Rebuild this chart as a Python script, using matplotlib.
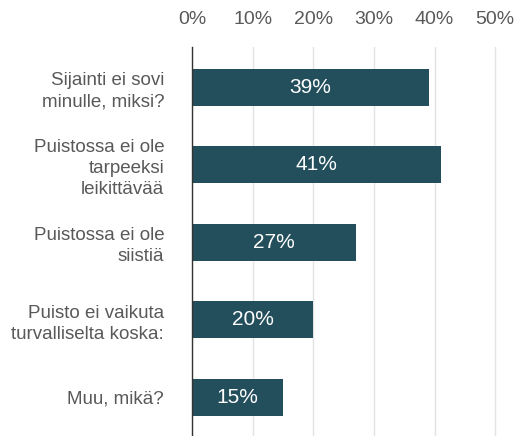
import matplotlib.pyplot as plt

plt.rcParams['font.family'] = ['Liberation Sans', 'DejaVu Sans']

labels = ['Sijainti ei sovi\nminulle, miksi?',
          'Puistossa ei ole\ntarpeeksi\nleikittävää',
          'Puistossa ei ole\nsiistiä',
          'Puisto ei vaikuta\nturvalliselta koska:',
          'Muu, mikä?']
values = [39, 41, 27, 20, 15]
ticks = [0, 10, 20, 30, 40, 50]

bar_color = '#234e5c'
text_color = '#595959'

fig = plt.figure(figsize=(5.14, 4.36), dpi=100)
ax = fig.add_axes([0.3735, 0.0, 0.5935, 0.892])

pos = list(range(len(values)))
ax.barh(pos, values, height=0.48, color=bar_color, zorder=3)
for p, v in zip(pos, values):
    ax.text(v / 2, p, f'{v}%', ha='center', va='center', color='white', fontsize=15, zorder=4)

ax.set_xlim(0, 50.3)
ax.set_ylim(4.5, -0.52)
ax.set_yticks(pos)
ax.set_yticklabels(labels, fontsize=13.5, color=text_color, linespacing=1.3)
ax.set_xticks(ticks)
ax.set_xticklabels([f'{t}%' for t in ticks], fontsize=14, color=text_color)
ax.xaxis.tick_top()
ax.tick_params(axis='x', length=0, pad=14)
ax.tick_params(axis='y', length=0, pad=20)
ax.grid(axis='x', color='#e3e3e3', linewidth=1, zorder=0)
for s in ['top', 'right', 'bottom']:
    ax.spines[s].set_visible(False)
ax.spines['left'].set_color('#333333')
ax.spines['left'].set_linewidth(1)
ax.spines['left'].set_zorder(5)

fig.savefig('out.png', dpi=100)
